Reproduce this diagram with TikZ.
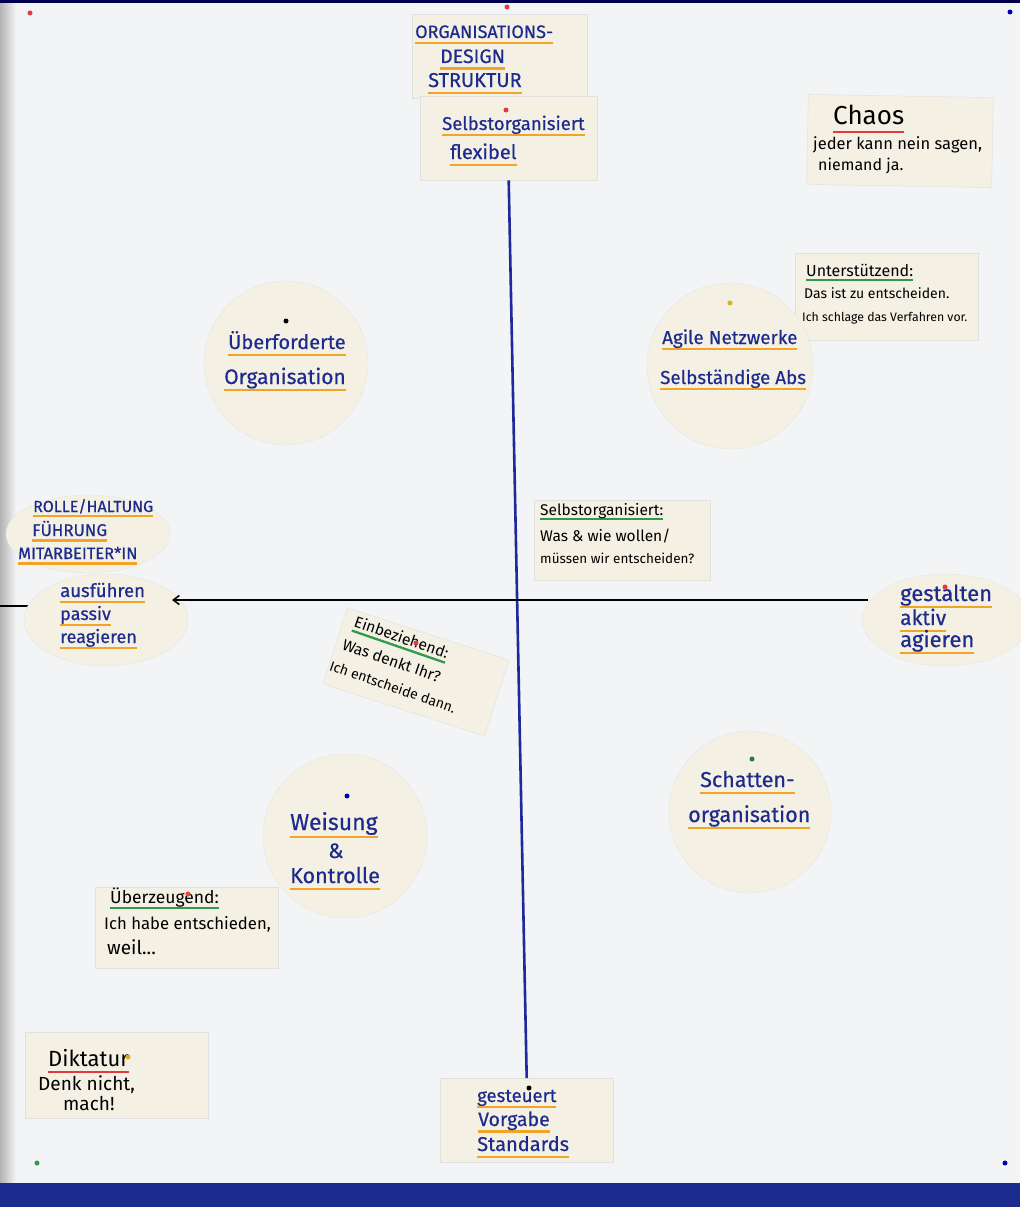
\documentclass[tikz,border=0pt]{standalone}
\usepackage{fontspec}
\setmainfont{Fira Sans}
\newfontfamily\mkf[FakeBold=0.5]{Fira Sans}
\usetikzlibrary{arrows.meta,shapes.geometric}
\definecolor{bgc}{HTML}{F3F4F6}
\definecolor{cardc}{HTML}{F4F0E3}
\definecolor{ink}{HTML}{1D2B8F}
\definecolor{ora}{HTML}{F0A52A}
\definecolor{grn}{HTML}{2F9A4C}
\definecolor{rd}{HTML}{E23A3F}
\definecolor{band}{HTML}{1B2C8E}
\definecolor{axisblue}{HTML}{1F2A9A}
\definecolor{pinyel}{HTML}{D8B020}
\newcommand\mk[2]{\setbox0=\hbox{#2}\rlap{\textcolor{#1}{\rule[-0.34em]{\wd0}{2.3pt}}}\box0}
\newcommand\fsz[1]{\fontsize{#1}{#1}\selectfont}
\begin{document}
\begin{tikzpicture}[x=1pt,y=-1pt,
  card/.style={fill=cardc, draw=black!12, inner sep=0pt},
  disc/.style={circle, fill=cardc, draw=black!10, inner sep=0pt},
  oval/.style={ellipse, fill=cardc, draw=black!10, inner sep=0pt},
  pin/.style={circle, inner sep=0pt, minimum size=5pt},
  bl/.style={text=ink, inner sep=0pt, anchor=base west, font=\mkf},
  bk/.style={text=black, inner sep=0pt, anchor=base west},
]
\useasboundingbox (0,0) rectangle (1020,1207);
% background
\fill[bgc] (0,0) rectangle (1020,1207);
\shade[left color=black!30, right color=bgc] (0,0) rectangle (16,1183);
\fill[black!70!blue] (0,0) rectangle (1020,3);
\fill[band] (0,1183) rectangle (1020,1207);
\draw[black, line width=1.6pt] (0,606) -- (30,606);

% cards
\node[card, minimum width=175pt, minimum height=84pt, anchor=north west] (c1) at (412,14) {};
\node[card, minimum width=177pt, minimum height=84pt, anchor=north west] (c2) at (420,96) {};
\node[card, minimum width=185pt, minimum height=90pt, rotate=-1] (c3) at (900,141) {};
\node[card, minimum width=183pt, minimum height=87pt, anchor=north west] (c4) at (795,253) {};
\node[card, minimum width=176pt, minimum height=80pt, anchor=north west] (c5) at (534,500) {};
\node[card, minimum width=170pt, minimum height=80pt, rotate=-18] (c6) at (416,672) {};
\node[card, minimum width=183pt, minimum height=81pt, anchor=north west] (c7) at (95,887) {};
\node[card, minimum width=183pt, minimum height=86pt, anchor=north west] (c8) at (25,1032) {};
\node[card, minimum width=173pt, minimum height=84pt, anchor=north west] (c9) at (440,1078) {};

% discs
\node[disc, minimum size=164pt] (d1) at (286,363) {};
\node[disc, minimum size=166pt] (d2) at (730,366) {};
\node[disc, minimum size=164pt] (d3) at (345,836) {};
\node[disc, minimum size=162pt] (d4) at (750,812) {};

% ovals
\node[oval, minimum width=164pt, minimum height=78pt] (e1) at (88,534) {};
\node[oval, minimum width=164pt, minimum height=92pt] (af) at (106,620) {};
\node[oval, minimum width=168pt, minimum height=92pt] (ge) at (946,620) {};

% ORGANISATIONS-DESIGN card
\node[bl] (t1a) at (415,38) {\fsz{18}\mk{ora}{ORGANISATIONS-}};
\node[bl] (t1b) at (440,63) {\fsz{19.5}\mk{ora}{DESIGN}};
\node[bl] (t1c) at (428,87) {\fsz{20}\mk{ora}{STRUKTUR}};
% Selbstorganisiert flexibel
\node[bl] (t2a) at (442,130) {\fsz{18.5}\mk{ora}{Selbstorganisiert}};
\node[bl] (t2b) at (450,159) {\fsz{20}\mk{ora}{flexibel}};
% Chaos
\node[bk] (t3a) at (833,124) {\fsz{26}\mk{rd}{Chaos}};
\node[bk] (t3b) at (813,149) {\fsz{16.5}jeder kann nein sagen,};
\node[bk] (t3c) at (818,170) {\fsz{16}niemand ja.};
% Unterstuetzend
\node[bk] (t4a) at (806,276) {\fsz{16}\mk{grn}{Unterstützend:}};
\node[bk] (t4b) at (804,298) {\fsz{14}Das ist zu entscheiden.};
\node[bk] (t4c) at (802,321) {\fsz{12.3}Ich schlage das Verfahren vor.};
% Selbstorganisiert (center)
\node[bk] (t5a) at (540,515) {\fsz{15.5}\mk{grn}{Selbstorganisiert:}};
\node[bk] (t5b) at (540,541) {\fsz{15.5}Was \& wie wollen/};
\node[bk] (t5c) at (540,563) {\fsz{13.5}müssen wir entscheiden?};
% Einbeziehend (rotated, one block)
\node[bk, rotate=-19, anchor=north west, align=left, font=\fontsize{15.5}{18}\selectfont] (t6) at (357,615)
  {\mk{grn}{Einbeziehend:}\\[7pt] \hspace*{-4pt}Was denkt Ihr?\\[6pt] \hspace*{-9pt}\fontsize{14}{18}\selectfont Ich entscheide dann.};
% Ueberzeugend
\node[bk] (t7a) at (110,903) {\fsz{17.5}\mk{grn}{Überzeugend:}};
\node[bk] (t7b) at (104,929) {\fsz{16.7}Ich habe entschieden,};
\node[bk] (t7c) at (107,954) {\fsz{19}weil...};
% Diktatur
\node[bk] (t8a) at (48,1066) {\fsz{22}\mk{rd}{Diktatur}};
\node[bk] (t8b) at (38,1090) {\fsz{19}Denk nicht,};
\node[bk] (t8c) at (63,1110) {\fsz{19}mach!};
% gesteuert
\node[bl] (t9a) at (477,1102) {\fsz{18.5}\mk{ora}{gesteuert}};
\node[bl] (t9b) at (478,1126) {\fsz{19.5}\mk{ora}{Vorgabe}};
\node[bl] (t9c) at (477,1151) {\fsz{20}\mk{ora}{Standards}};

% discs text
\node[bl] (td1a) at (228,349) {\fsz{20}\mk{ora}{Überforderte}};
\node[bl] (td1b) at (224,384) {\fsz{21}\mk{ora}{Organisation}};
\node[bl] (td2a) at (662,344) {\fsz{18.8}\mk{ora}{Agile Netzwerke}};
\node[bl] (td2b) at (660,384) {\fsz{18.8}\mk{ora}{Selbständige Abs}};
\node[bl] (td3a) at (290,830) {\fsz{23}\mk{ora}{Weisung}};
\node[bl] (td3b) at (328,858) {\fsz{21}\&};
\node[bl] (td3c) at (290,883) {\fsz{21.5}\mk{ora}{Kontrolle}};
\node[bl] (td4a) at (700,787) {\fsz{21.5}\mk{ora}{Schatten-}};
\node[bl] (td4b) at (688,822) {\fsz{21.5}\mk{ora}{organisation}};

% ovals text
\node[bl] (te1a) at (33,512) {\fsz{16}\mk{ora}{ROLLE/HALTUNG}};
\node[bl] (te1b) at (32,536) {\fsz{17}\mk{ora}{FÜHRUNG}};
\node[bl] (te1c) at (18,559) {\fsz{16.5}\mk{ora}{MITARBEITER*IN}};
\node[bl] (te2a) at (60,597) {\fsz{18.5}\mk{ora}{ausführen}};
\node[bl] (te2b) at (60,620) {\fsz{18}\mk{ora}{passiv}};
\node[bl] (te2c) at (60,643) {\fsz{18}\mk{ora}{reagieren}};
\node[bl] (te3a) at (900,601) {\fsz{22}\mk{ora}{gestalten}};
\node[bl] (te3b) at (900,625) {\fsz{21}\mk{ora}{aktiv}};
\node[bl] (te3c) at (900,647) {\fsz{22}\mk{ora}{agieren}};

% axes
\coordinate (hl) at (172,600);
\coordinate (hr) at (868,600);
\draw[axisblue, line width=2.6pt] (c2.south) -- (c9.north);
\draw[black, line width=1.6pt, -{Straight Barb[length=6pt,width=9pt]}] (hr) -- (hl);

% pins
\node[pin, fill=rd] (p1) at (507,7) {};
\node[pin, fill=rd] (p2) at (506,110) {};
\node[pin, fill=rd] (p3) at (30,13) {};
\node[pin, fill=blue!70!black] (p4) at (1010,12) {};
\node[pin, fill=grn] (p5) at (37,1163) {};
\node[pin, fill=blue!70!black] (p6) at (1005,1163) {};
\node[pin, fill=black] (p7) at (286,321) {};
\node[pin, fill=pinyel] (p8) at (730,303) {};
\node[pin, fill=blue!70!black] (p9) at (347,796) {};
\node[pin, fill=grn!80!black] (p10) at (752,759) {};
\node[pin, fill=rd] (p11) at (945,587) {};
\node[pin, fill=rd] (p12) at (416,643) {};
\node[pin, fill=rd!80!orange] (p13) at (188,894) {};
\node[pin, fill=pinyel] (p14) at (128,1057) {};
\node[pin, fill=black] (p15) at (529,1088) {};
\end{tikzpicture}
\end{document}
